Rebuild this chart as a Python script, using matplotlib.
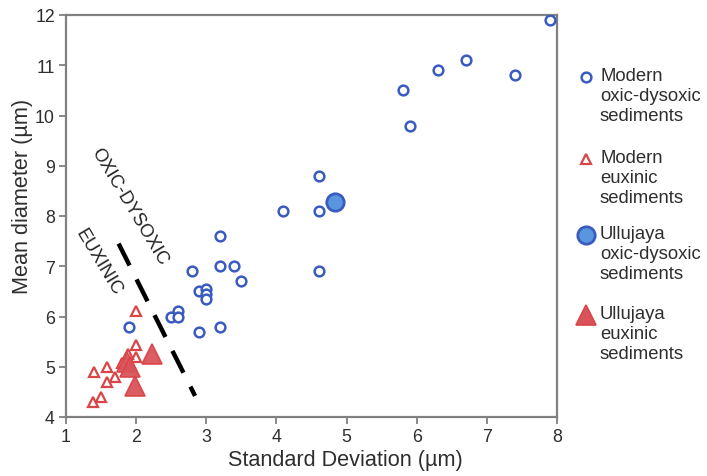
import matplotlib
matplotlib.use("Agg")
import matplotlib.pyplot as plt
from matplotlib.lines import Line2D

plt.rcParams['font.family'] = ['Liberation Sans', 'DejaVu Sans']

# Modern oxic-dysoxic sediments
mod_oxic_sd = [7.9, 6.7, 6.3, 7.4, 5.8, 5.9, 4.6, 4.1, 4.6, 4.6, 3.2, 2.8, 3.2, 3.4, 3.5,
               2.9, 3.0, 3.0, 3.0, 2.5, 2.6, 2.6, 2.9, 3.2, 1.9]
mod_oxic_mean = [11.9, 11.1, 10.9, 10.8, 10.5, 9.8, 8.8, 8.1, 8.1, 6.9, 7.6, 6.9, 7.0, 7.0, 6.7,
                 6.5, 6.55, 6.45, 6.35, 6.0, 6.1, 6.0, 5.7, 5.8, 5.8]

# Modern euxinic sediments
mod_eux_sd = [2.0, 2.0, 2.0, 1.88, 1.8, 1.58, 1.4, 1.7, 1.58, 1.5, 1.38]
mod_eux_mean = [6.1, 5.43, 5.2, 5.25, 5.08, 5.0, 4.9, 4.8, 4.7, 4.4, 4.3]

# Ullujaya oxic-dysoxic sediments
ull_oxic_sd = [4.83]
ull_oxic_mean = [8.28]

# Ullujaya euxinic sediments
ull_eux_sd = [2.23, 1.87, 1.91, 1.98]
ull_eux_mean = [5.25, 5.1, 5.0, 4.62]

# Boundary line
boundary_sd = [1.75, 2.84]
boundary_mean = [7.45, 4.42]

legend_labels = ["Modern\noxic-dysoxic\nsediments",
                 "Modern\neuxinic\nsediments",
                 "Ullujaya\noxic-dysoxic\nsediments",
                 "Ullujaya\neuxinic\nsediments"]

blue = '#3a5cc0'
blue_fill = '#5a96e0'
red = '#d94548'
red_fill = '#d9545a'
txt = '#2e2e2e'
gray = '#808080'

fig = plt.figure(figsize=(7.07, 4.77), dpi=100)
ax = fig.add_axes([66/707, 1-418/477, (557-66)/707, (418-16)/477])

ax.plot(boundary_sd, boundary_mean, color='black', lw=3.2,
        linestyle=(0, (5.5, 3.5)), dash_capstyle='butt', zorder=2)

ax.plot(mod_oxic_sd, mod_oxic_mean, 'o', ms=7, mfc='white', mec=blue, mew=1.8, ls='none', zorder=3)
ax.plot(mod_eux_sd, mod_eux_mean, '^', ms=7, mfc='white', mec=red, mew=1.6, ls='none', zorder=3)
ax.plot(ull_oxic_sd, ull_oxic_mean, 'o', ms=12.5, mfc=blue_fill, mec=blue, mew=2, ls='none', zorder=4)
ax.plot(ull_eux_sd, ull_eux_mean, '^', ms=14, mfc=red_fill, mec=red, mew=1.2, ls='none', alpha=0.95, zorder=4)

ax.text(1.91, 8.2, "OXIC-DYSOXIC", rotation=-59, ha='center', va='center',
        fontsize=13.2, color='#222222', rotation_mode='anchor')
ax.text(1.46, 7.1, "EUXINIC", rotation=-59, ha='center', va='center',
        fontsize=13.2, color='#222222', rotation_mode='anchor')

ax.set_xlim(1, 8)
ax.set_ylim(4, 12)
ax.set_xticks(range(1, 9))
ax.set_yticks(range(4, 13))
for s in ax.spines.values():
    s.set_color(gray)
    s.set_linewidth(1.6)
ax.tick_params(direction='out', length=5, width=1.3, color=gray, labelsize=12.8, labelcolor=txt, pad=3)
ax.set_xlabel("Standard Deviation (µm)", fontsize=15.6, color=txt)
ax.set_ylabel("Mean diameter (µm)", fontsize=15.6, color=txt)
ax.xaxis.set_label_coords((345-66)/491, -(450-418)/402)
ax.yaxis.set_label_coords((33-66)/491, (418-196)/402)

# Legend (manual, marker aligned with first line)
leg_y = [78, 160, 236, 316]
markers = [dict(marker='o', ms=7, mfc='white', mec=blue, mew=1.8),
           dict(marker='^', ms=7, mfc='white', mec=red, mew=1.6),
           dict(marker='o', ms=12.5, mfc=blue_fill, mec=blue, mew=2),
           dict(marker='^', ms=14, mfc=red_fill, mec=red, mew=1.2)]
for yp, lab, mk in zip(leg_y, legend_labels, markers):
    fy = 1 - yp/477
    fig.add_artist(Line2D([586/707], [fy], transform=fig.transFigure, ls='none', **mk))
    fig.text(600/707, 1 - (yp - 10)/477, lab, ha='left', va='top', fontsize=13.3, color=txt,
             linespacing=1.22, transform=fig.transFigure)

fig.savefig("out.png", dpi=100)
